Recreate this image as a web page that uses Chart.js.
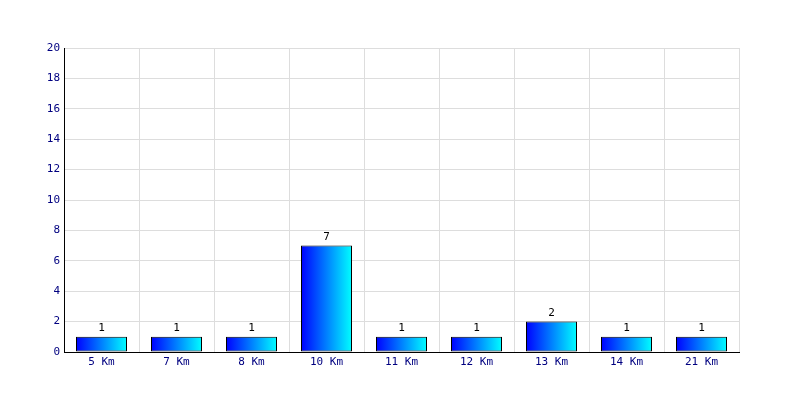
<!DOCTYPE html>
<html>
<head>
<meta charset="utf-8">
<script src="https://cdn.jsdelivr.net/npm/chart.js@4/dist/chart.umd.min.js"></script>
<style>
  body { margin: 0; background: #fff; }
  #wrap { width: 800px; height: 400px; }
</style>
</head>
<body>
<div id="wrap"><canvas id="myChart" width="800" height="400"></canvas></div>
<script>
  const labels = ['5 Km', '7 Km', '8 Km', '10 Km', '11 Km', '12 Km', '13 Km', '14 Km', '21 Km'];
  const counts = [1, 1, 1, 7, 1, 1, 2, 1, 1];
  const yMax = 20;
  const yStep = 2;

  const barPct = 0.68;

  // horizontal blue -> cyan gradient for each bar
  function barGradient(c) {
    const chart = c.chart;
    const xs = chart.scales.x;
    if (!xs || c.dataIndex === undefined) return '#0000ff';
    const cx = xs.getPixelForValue(c.dataIndex);
    const w = xs.width / labels.length * barPct;
    if (!isFinite(cx) || !isFinite(w) || w <= 0) return '#0000ff';
    const g = chart.ctx.createLinearGradient(cx - w / 2, 0, cx + w / 2, 0);
    g.addColorStop(0, '#0000ff');
    g.addColorStop(1, '#00ffff');
    return g;
  }

  const valueLabels = {
    id: 'valueLabels',
    afterDatasetsDraw(chart) {
      const ctx = chart.ctx;
      const meta = chart.getDatasetMeta(0);
      ctx.save();
      ctx.font = '11px "DejaVu Sans Mono", monospace';
      ctx.fillStyle = '#000';
      ctx.textAlign = 'center';
      ctx.textBaseline = 'bottom';
      meta.data.forEach((bar, i) => {
        ctx.fillText(String(counts[i]), bar.x, bar.y - 3);
      });
      ctx.restore();
    }
  };

  const config = {
    type: 'bar',
    data: {
      labels: labels,
      datasets: [{
        data: counts,
        backgroundColor: barGradient,
        borderColor: '#000',
        borderWidth: 1,
        borderSkipped: false,
        inflateAmount: 0,
        barPercentage: barPct,
        categoryPercentage: 1
      }]
    },
    options: {
      responsive: false,
      animation: false,
      layout: { padding: { top: 48, right: 61, left: 0, bottom: 0 } },
      plugins: { legend: { display: false }, tooltip: { enabled: false } },
      scales: {
        x: {
          grid: { color: '#dddddd', drawTicks: false, offset: true },
          border: { color: '#000', width: 1 },
          ticks: { color: '#000080', font: { family: 'DejaVu Sans Mono', size: 11 }, padding: 4 },
          afterFit(s) { s.height = 48; }
        },
        y: {
          min: 0,
          max: yMax,
          grid: { color: '#dddddd', drawTicks: false },
          border: { color: '#000', width: 1 },
          ticks: { stepSize: yStep, color: '#000080', font: { family: 'DejaVu Sans Mono', size: 11 }, padding: 4 },
          afterFit(s) { s.width = 64; }
        }
      }
    },
    plugins: [valueLabels]
  };

  const myChart = new Chart(document.getElementById('myChart'), config);
</script>
</body>
</html>
